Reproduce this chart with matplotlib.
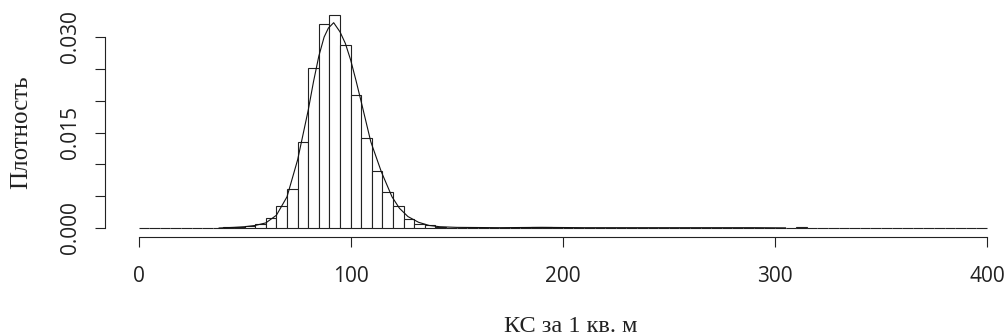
import numpy as np
import matplotlib
matplotlib.use("Agg")
import matplotlib.pyplot as plt

# ---- data ----
bin_start = 0
bin_width = 5
densities = [
    0, 0, 0, 0, 0, 0, 0, 0,                       # 0-40
    0.0001, 0.0002, 0.0003, 0.0006, 0.0015, 0.0034, 0.0061, 0.0135,  # 40-80
    0.0251, 0.0320, 0.0335, 0.0287, 0.0209, 0.0141, 0.0089, 0.0057,  # 80-120
    0.0035, 0.0014, 0.0006, 0.0004, 0.0002,                        # 120-145
    0.00003, 0.00003, 0.00003, 0.00003, 0.00003, 0.00003, 0.00003, 0.00003,  # 145-185
    0.0002, 0.0002,                                                # 185-195
    0.00003, 0.00003, 0.00003, 0.00003, 0.00003, 0.00003, 0.00003, 0.00003,
    0.00003, 0.00003, 0.00003, 0.00003, 0.00003, 0.00003, 0.00003, 0.00003,
    0.00003, 0.00003, 0.00003, 0.00003, 0.00003, 0.00003,          # 195-305
    0, 0.0001,                                                     # 305-315
    0, 0, 0, 0, 0, 0, 0, 0, 0, 0, 0, 0, 0, 0, 0, 0, 0,             # 315-400
]
curve_x = [38, 45, 50, 55, 60, 65, 70, 75, 80, 82.5, 85, 87.5, 89.5, 92, 95,
           97.5, 100, 102.5, 105, 109.5, 114.5, 119.5, 123, 127, 132, 137,
           142, 150, 170, 190, 210, 250, 290, 305]
curve_y = [0, 0.0001, 0.0002, 0.0004, 0.0008, 0.0020, 0.0049, 0.0107, 0.0185,
           0.0230, 0.0270, 0.0300, 0.0314, 0.03225, 0.0308, 0.0290, 0.0264,
           0.0232, 0.0198, 0.01355, 0.0088, 0.0049, 0.0031, 0.0018, 0.0009,
           0.0004, 0.0002, 0.0001, 0.00005, 0.0001, 0.00005, 0.00005, 0.00005,
           0.00002]
x_ticks = [0, 100, 200, 300, 400]
y_ticks = [0, 0.005, 0.010, 0.015, 0.020, 0.025, 0.030]
y_tick_labels = ["0.000", "", "", "0.015", "", "", "0.030"]
x_label = "КС за 1 кв. м"
y_label = "Плотность"

# ---- figure ----
W, H = 1007, 336
fig = plt.figure(figsize=(W / 100, H / 100), dpi=100)
ax = fig.add_axes([100 / W, (H - 240) / H, 900 / W, 235 / H])

edges = bin_start + bin_width * np.arange(len(densities))
ax.bar(edges, densities, width=bin_width, align="edge", color="white",
       edgecolor="#222222", linewidth=0.8, zorder=2)
ax.plot(curve_x, curve_y, color="#111111", linewidth=0.8, zorder=3)

ax.set_xlim(-18.15, 406.1)
ax.set_ylim(-0.001885, 0.03503)

for s in ["top", "right"]:
    ax.spines[s].set_visible(False)
ax.spines["bottom"].set_position(("data", -0.001414))
ax.spines["bottom"].set_bounds(0, 400)
ax.spines["left"].set_position(("data", -15.79))
ax.spines["left"].set_bounds(0, 0.030)
for s in ["bottom", "left"]:
    ax.spines[s].set_linewidth(0.8)
    ax.spines[s].set_color("#222222")

ax.set_xticks(x_ticks)
ax.set_xticklabels([str(t) for t in x_ticks], fontfamily="Open Sans", fontsize=15, color="#222222")
ax.set_yticks(y_ticks)
ax.set_yticklabels(y_tick_labels, fontfamily="Open Sans", fontsize=15, color="#222222",
                   rotation=90, va="center")
ax.tick_params(axis="both", direction="out", length=7.2, width=0.8, color="#222222")
ax.tick_params(axis="x", pad=14)
ax.tick_params(axis="y", pad=10)

fig.text(571 / W, 1 - 326 / H, x_label, ha="center", va="center",
         fontfamily="Liberation Serif", fontsize=17.5, color="#222222")
fig.text(21 / W, 1 - 132 / H, y_label, ha="center", va="center", rotation=90,
         fontfamily="Liberation Serif", fontsize=18, color="#222222")

fig.savefig("out.png", dpi=100)
